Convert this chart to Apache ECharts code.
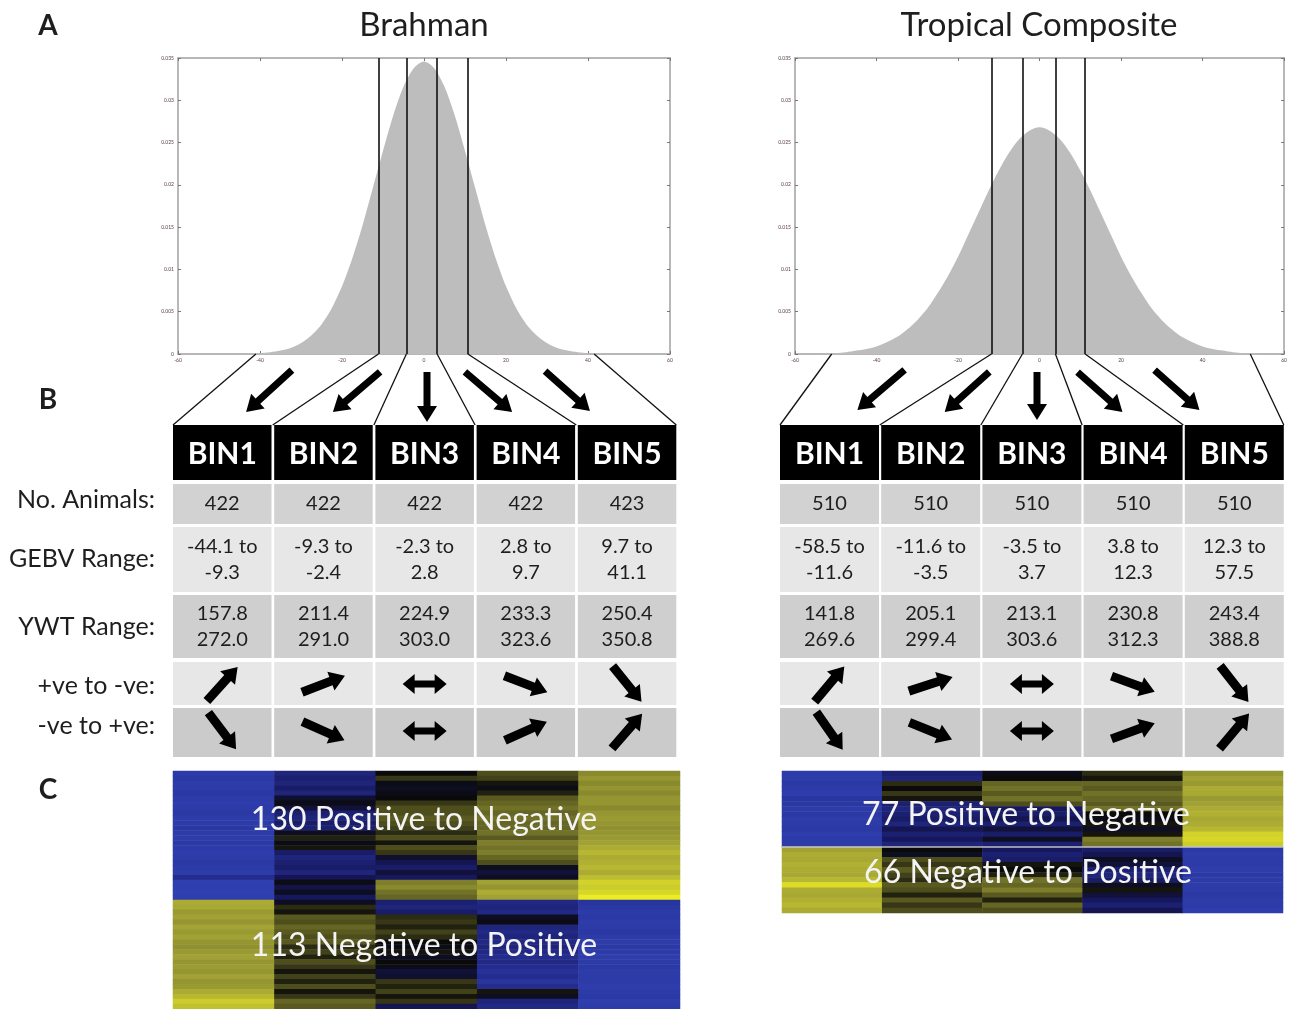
<!DOCTYPE html>
<html><head><meta charset="utf-8">
<script src="https://cdn.jsdelivr.net/npm/echarts@6/dist/echarts.min.js"></script>
<style>html,body{margin:0;padding:0;background:#fff}#c{width:1290px;height:1009px}</style>
</head><body><div id="c"></div>
<script>
// ---------- DATA ----------
const bins = ['BIN1', 'BIN2', 'BIN3', 'BIN4', 'BIN5'];
const gebvX = [-60,-57.5,-55,-52.5,-50,-47.5,-45,-42.5,-40,-37.5,-35,-32.5,-30,-27.5,-25,-22.5,-20,-17.5,-15,-12.5,-10,-7.5,-5,-2.5,0,2.5,5,7.5,10,12.5,15,17.5,20,22.5,25,27.5,30,32.5,35,37.5,40,42.5,45,47.5,50,52.5,55,57.5,60];
const brahmanDensity = [0,0,0,0,0,0,0,0.00005,0.0001,0.0002,0.0004,0.0007,0.0013,0.0022,0.0035,0.0054,0.0080,0.0113,0.0152,0.0196,0.0240,0.0282,0.0316,0.0338,0.0346,0.0338,0.0316,0.0282,0.0240,0.0196,0.0152,0.0113,0.0080,0.0054,0.0035,0.0022,0.0013,0.0007,0.0004,0.0002,0.0001,0.00005,0,0,0,0,0,0,0];
const tropicalDensity = [0,0,0,0.00005,0.0001,0.0002,0.0004,0.0006,0.0009,0.0014,0.0020,0.0029,0.0040,0.0054,0.0072,0.0092,0.0115,0.0141,0.0167,0.0193,0.0217,0.0238,0.0254,0.0264,0.0268,0.0264,0.0254,0.0238,0.0217,0.0193,0.0167,0.0141,0.0115,0.0092,0.0072,0.0054,0.0040,0.0029,0.0020,0.0014,0.0009,0.0006,0.0004,0.0002,0.0001,0.00005,0,0,0];
const brahmanCuts = [-11.1, -4.3, 3.2, 10.7];
const tropicalCuts = [-11.8, -4.2, 3.9, 11.2];
const brahmanEnds = [-41, 41.5];
const tropicalEnds = [-51, 51.7];

const brahmanAnimals = [422, 422, 422, 422, 423];
const brahmanGebvLow = [-44.1, -9.3, -2.3, 2.8, 9.7];
const brahmanGebvHigh = [-9.3, -2.4, 2.8, 9.7, 41.1];
const brahmanYwtLow = [157.8, 211.4, 224.9, 233.3, 250.4];
const brahmanYwtHigh = [272.0, 291.0, 303.0, 323.6, 350.8];
const tropicalAnimals = [510, 510, 510, 510, 510];
const tropicalGebvLow = [-58.5, -11.6, -3.5, 3.8, 12.3];
const tropicalGebvHigh = [-11.6, -3.5, 3.7, 12.3, 57.5];
const tropicalYwtLow = [141.8, 205.1, 213.1, 230.8, 243.4];
const tropicalYwtHigh = [269.6, 299.4, 303.6, 312.3, 388.8];
// arrow slope in degrees (up = positive); null = two-headed horizontal arrow
const brahmanPosToNeg = [48, 21, null, -21, -51];
const brahmanNegToPos = [-53, -24, null, 24, 49];
const tropicalPosToNeg = [50, 18, null, -20, -52];
const tropicalNegToPos = [-55, -22, null, 20, 50];

const brahmanGroups = [130, 113];
const tropicalGroups = [77, 66];
// heatmap bands (top block = positive to negative, bottom = negative to positive), one array per bin
const brahmanTop = [
 [-0.8,-0.78,-0.82,-0.8,-0.76,-0.8,-0.84,-0.8,-0.78,-0.82,-0.8,-0.76,-0.8,-0.82,-0.78,-0.8,-0.84,-0.8,-0.78,-0.8,-0.82,-0.6,-0.88,-0.86,-0.9,-0.86],
 [-0.5,-0.45,-0.5,-0.4,-0.5,-0.15,-0.05,-0.2,-0.45,-0.5,-0.4,-0.45,-0.1,0.1,-0.05,0.05,-0.4,-0.5,-0.45,-0.4,-0.5,-0.3,-0.05,-0.25,-0.1,-0.35],
 [0.0,0.2,-0.05,-0.1,-0.05,0.0,0.2,0.3,0.3,0.35,0.3,0.25,0.15,0.3,0.05,0.3,0.2,-0.15,-0.3,-0.4,-0.2,-0.35,0.5,0.55,0.45,0.4],
 [0.3,0.25,0.05,-0.05,0.1,0.35,0.4,0.45,0.4,0.45,0.4,0.4,0.45,0.35,0.5,0.45,0.5,0.4,0.3,-0.1,-0.2,-0.1,0.65,0.6,0.7,0.65],
 [0.55,0.6,0.55,0.6,0.55,0.6,0.6,0.55,0.6,0.62,0.6,0.58,0.6,0.62,0.65,0.7,0.75,0.7,0.72,0.75,0.7,0.78,0.88,0.85,0.9,1.0]
];
const brahmanBottom = [
 [0.7,0.68,0.62,0.65,0.6,0.66,0.62,0.65,0.6,0.58,0.62,0.65,0.6,0.63,0.6,0.65,0.6,0.62,0.7,0.75,0.85,0.8],
 [-0.1,0.15,0.05,0.35,0.3,0.4,0.35,0.3,0.35,0.15,0.25,0.1,0.3,0.2,0.05,0.25,0.1,0.3,0.05,0.2,0.4,0.35],
 [-0.45,-0.5,-0.4,0.15,0.2,0.1,0.25,0.15,0.0,-0.05,0.05,-0.1,0.0,-0.05,-0.2,-0.15,0.2,0.1,0.25,0.05,0.2,-0.3],
 [-0.55,-0.5,-0.55,-0.1,-0.05,-0.5,-0.55,-0.5,-0.55,-0.5,-0.55,-0.6,-0.55,-0.6,-0.65,-0.6,-0.7,-0.6,0.05,-0.1,-0.5,-0.55],
 [-0.7,-0.75,-0.8,-0.78,-0.82,-0.8,-0.76,-0.8,-0.82,-0.78,-0.8,-0.84,-0.8,-0.78,-0.82,-0.8,-0.8,-0.84,-0.8,-0.78,-0.86,-0.82]
];
const tropicalTop = [
 [-0.8,-0.82,-0.78,-0.8,-0.84,-0.72,-0.75,-0.8,-0.78,-0.82,-0.8,-0.78,-0.84,-0.8,-0.82],
 [-0.45,-0.5,0.15,0.0,0.2,0.05,-0.45,-0.5,-0.45,-0.4,-0.5,-0.3,-0.45,-0.35,-0.5],
 [-0.05,0.0,0.4,0.45,0.35,0.45,0.3,-0.35,-0.4,-0.3,-0.45,-0.2,-0.4,-0.1,-0.45],
 [0.15,0.05,0.4,0.35,0.45,0.4,0.35,0.45,0.0,-0.05,0.05,-0.1,0.05,0.5,0.45],
 [0.6,0.65,0.62,0.7,0.68,0.62,0.65,0.7,0.72,0.68,0.7,0.75,0.88,0.9,0.85]
];
const tropicalBottom = [
 [0.65,0.7,0.68,0.72,0.7,0.68,0.75,0.92,0.7,0.68,0.72,0.75,0.7],
 [0.0,-0.1,0.3,0.2,0.35,0.25,0.15,0.35,0.3,0.1,0.35,0.2,0.3],
 [-0.35,-0.45,-0.4,0.05,0.0,0.1,0.45,0.4,0.5,0.35,0.1,0.4,0.3],
 [-0.4,-0.3,-0.1,-0.2,-0.45,-0.5,-0.4,-0.1,0.05,-0.2,-0.35,-0.45,-0.3],
 [-0.78,-0.82,-0.8,-0.8,-0.84,-0.78,-0.8,-0.82,-0.8,-0.78,-0.82,-0.8,-0.84]
];

// ---------- BUILD ----------
const FONT = 'Lato, "Open Sans", sans-serif';
function heatData(top, bot) {
  const out = [];
  for (let c = 0; c < 5; c++) {
    const col = top[c].concat(bot[c]);
    col.forEach((v, r) => out.push([c, r, v]));
  }
  return out;
}
const brRows = brahmanTop[0].length + brahmanBottom[0].length;
const tcRows = tropicalTop[0].length + tropicalBottom[0].length;

function densAxisX(gi, pos, labels) {
  return {gridIndex: gi, type: 'value', position: pos, min: -60, max: 60, interval: 20,
    axisLine: {show: true, onZero: false, lineStyle: {color: '#a0a0a0', width: 1.5}},
    axisTick: {show: true, inside: true, length: 3, lineStyle: {color: '#777'}},
    axisLabel: {show: labels, fontSize: 5, color: '#5a4040', margin: 4, fontFamily: FONT},
    splitLine: {show: false}};
}
function densAxisY(gi, pos, labels) {
  return {gridIndex: gi, type: 'value', position: pos, min: 0, max: 0.035, interval: 0.005,
    axisLine: {show: true, onZero: false, lineStyle: {color: '#a0a0a0', width: 1.5}},
    axisTick: {show: true, inside: true, length: 3, lineStyle: {color: '#777'}},
    axisLabel: {show: labels, fontSize: 5, color: '#5a4040', margin: 4, fontFamily: FONT,
      formatter: v => v === 0 ? '0' : String(+v.toFixed(3))},
    splitLine: {show: false}};
}
function areaSeries(xi, yi, dens, cuts) {
  return {type: 'line', xAxisIndex: xi, yAxisIndex: yi, smooth: 0.3, symbol: 'none',
    data: gebvX.map((x, i) => [x, dens[i]]),
    lineStyle: {width: 0}, areaStyle: {color: '#bdbdbd', opacity: 1},
    markLine: {silent: true, symbol: 'none', label: {show: false},
      lineStyle: {color: '#111', width: 1.6, type: 'solid'},
      data: cuts.map(v => ({xAxis: v}))}};
}

const chart = echarts.init(document.getElementById('c'), null, {renderer: 'canvas'});
chart.setOption({
  animation: false,
  backgroundColor: '#ffffff',
  grid: [
    {left: 178, top: 58, width: 492, height: 296},
    {left: 795, top: 58, width: 493, height: 296},
    {left: 173, top: 771, width: 507, height: 238},
    {left: 782, top: 771, width: 501, height: 142}
  ],
  xAxis: [
    densAxisX(0, 'bottom', true), densAxisX(1, 'bottom', true),
    densAxisX(0, 'top', false), densAxisX(1, 'top', false),
    {gridIndex: 2, type: 'category', data: bins, show: false},
    {gridIndex: 3, type: 'category', data: bins, show: false}
  ],
  yAxis: [
    densAxisY(0, 'left', true), densAxisY(1, 'left', true),
    densAxisY(0, 'right', false), densAxisY(1, 'right', false),
    {gridIndex: 2, type: 'category', inverse: true, show: false, data: Array.from({length: brRows}, (_, i) => i)},
    {gridIndex: 3, type: 'category', inverse: true, show: false, data: Array.from({length: tcRows}, (_, i) => i)}
  ],
  visualMap: {type: 'continuous', show: false, min: -1, max: 1, seriesIndex: [2, 3],
    inRange: {color: ['#3446bb', '#27339a', '#16165a', '#0a0a0a', '#55551f', '#a5a536', '#ecec24']}},
  series: [
    areaSeries(0, 0, brahmanDensity, brahmanCuts),
    areaSeries(1, 1, tropicalDensity, tropicalCuts),
    {type: 'heatmap', xAxisIndex: 4, yAxisIndex: 4, data: heatData(brahmanTop, brahmanBottom), silent: true},
    {type: 'heatmap', xAxisIndex: 5, yAxisIndex: 5, data: heatData(tropicalTop, tropicalBottom), silent: true}
  ]
});

// ---------- GRAPHICS (layout) ----------
const G = [];
function txt(x, y, s, font, opt) {
  G.push({type: 'text', z: 50, silent: true, x: x, y: y,
    style: Object.assign({text: s, font: font + ' ' + FONT, fill: '#1e1e1e', align: 'center', verticalAlign: 'middle'}, opt || {})});
}
function rect(x, y, w, h, fill) {
  G.push({type: 'rect', z: 5, silent: true, shape: {x: x, y: y, width: w, height: h}, style: {fill: fill}});
}
function line(x1, y1, x2, y2, w) {
  G.push({type: 'line', z: 5, silent: true, shape: {x1: x1, y1: y1, x2: x2, y2: y2}, style: {stroke: '#111', lineWidth: w || 1.2}});
}
function arrow(cx, cy, ang, len, shaftW, headW, headL, both) {
  const a = ang * Math.PI / 180, c = Math.cos(a), s = Math.sin(a), h = len / 2;
  let loc;
  if (!both) loc = [[-h, -shaftW/2], [h-headL, -shaftW/2], [h-headL, -headW/2], [h, 0], [h-headL, headW/2], [h-headL, shaftW/2], [-h, shaftW/2]];
  else loc = [[-h, 0], [-h+headL, -headW/2], [-h+headL, -shaftW/2], [h-headL, -shaftW/2], [h-headL, -headW/2], [h, 0], [h-headL, headW/2], [h-headL, shaftW/2], [-h+headL, shaftW/2], [-h+headL, headW/2]];
  const pts = loc.map(p => [cx + p[0]*c - p[1]*s, cy + p[0]*s + p[1]*c]);
  G.push({type: 'polygon', z: 20, silent: true, shape: {points: pts}, style: {fill: '#000'}});
}

// titles & section letters
txt(424, 25, 'Brahman', '33px');
txt(1039, 25, 'Tropical Composite', '33px');
txt(48, 26, 'A', 'bold 28px');
txt(48, 400, 'B', 'bold 28px');
txt(48, 790, 'C', 'bold 28px');

// row labels
const labelX = 155;
[['No. Animals:', 500], ['GEBV Range:', 559], ['YWT Range:', 627], ['+ve to -ve:', 686], ['-ve to +ve:', 726]].forEach(([s, y]) =>
  txt(labelX, y, s, '25px', {align: 'right'}));

const rows = [
  {y: 425, h: 55, fill: '#000000'},
  {y: 484, h: 40, fill: '#d2d2d2'},
  {y: 527, h: 65, fill: '#e7e7e7'},
  {y: 595, h: 63, fill: '#cfcfcf'},
  {y: 662, h: 43, fill: '#e7e7e7'},
  {y: 708, h: 49, fill: '#cbcbcb'}
];

function panel(x0, pitch, cw, xi, yi, cuts, ends, animals, gLo, gHi, yLo, yHi, p2n, n2p, topArrows) {
  for (let i = 0; i < 5; i++) {
    const x = x0 + i * pitch, cx = x + cw / 2;
    rows.forEach(r => rect(x, r.y, cw, r.h, r.fill));
    txt(cx, 454, bins[i], 'bold 30px', {fill: '#ffffff'});
    txt(cx, 504, String(animals[i]), '20px');
    txt(cx, 547, gLo[i].toFixed(1) + ' to', '20px');
    txt(cx, 573, gHi[i].toFixed(1), '20px');
    txt(cx, 614, yLo[i].toFixed(1), '20px');
    txt(cx, 640, yHi[i].toFixed(1), '20px');
    [[p2n[i], 684], [n2p[i], 731]].forEach(([sl, y]) => {
      if (sl === null) arrow(cx, y, 0, 44, 7, 20, 12, true);
      else arrow(cx, y, -sl, 46, 9, 20, 15, false);
    });
  }
  const marks = [ends[0]].concat(cuts, [ends[1]]);
  const bounds = [x0, x0 + pitch - 1.5, x0 + 2*pitch - 1.5, x0 + 3*pitch - 1.5, x0 + 4*pitch - 1.5, x0 + 4*pitch + cw];
  marks.forEach((m, k) => {
    const p = chart.convertToPixel({xAxisIndex: xi, yAxisIndex: yi}, [m, 0]);
    line(p[0], p[1], bounds[k], 425, 1.3);
  });
  topArrows.forEach(a => arrow(a[0], a[1], a[2], a[3], 7, 20, 16, false));
}

panel(173, 101.2, 98.5, 0, 0, brahmanCuts, brahmanEnds, brahmanAnimals, brahmanGebvLow, brahmanGebvHigh, brahmanYwtLow, brahmanYwtHigh, brahmanPosToNeg, brahmanNegToPos,
  [[269, 391, 137.6, 62], [356.5, 392, 139.6, 62], [427, 397, 90, 50], [488.5, 392, 40.4, 62], [567.5, 391, 41.6, 60]]);
panel(780, 101.2, 99, 1, 1, tropicalCuts, tropicalEnds, tropicalAnimals, tropicalGebvLow, tropicalGebvHigh, tropicalYwtLow, tropicalYwtHigh, tropicalPosToNeg, tropicalNegToPos,
  [[881, 390, 139.6, 62], [967, 392, 138, 60], [1037, 396, 90, 48], [1100, 392, 41.6, 60], [1177, 390, 41.6, 60]]);

(function () {
  const nTop = tropicalTop[0].length;
  const a = chart.convertToPixel({xAxisIndex: 5, yAxisIndex: 5}, [0, nTop - 1]);
  const b = chart.convertToPixel({xAxisIndex: 5, yAxisIndex: 5}, [0, nTop]);
  const y = (a[1] + b[1]) / 2;
  G.push({type: 'line', z: 30, silent: true, shape: {x1: 782, y1: y, x2: 1283, y2: y}, style: {stroke: 'rgba(210,210,210,0.9)', lineWidth: 1.5}});
})();
txt(424, 820, brahmanGroups[0] + ' Positive to Negative', '32px', {fill: '#f4f4f4'});
txt(424, 946, brahmanGroups[1] + ' Negative to Positive', '32px', {fill: '#f4f4f4'});
txt(1026, 815, tropicalGroups[0] + ' Positive to Negative', '32px', {fill: '#f4f4f4'});
txt(1028, 873, tropicalGroups[1] + ' Negative to Positive', '32px', {fill: '#f4f4f4'});

chart.setOption({graphic: {elements: G}});
</script></body></html>
